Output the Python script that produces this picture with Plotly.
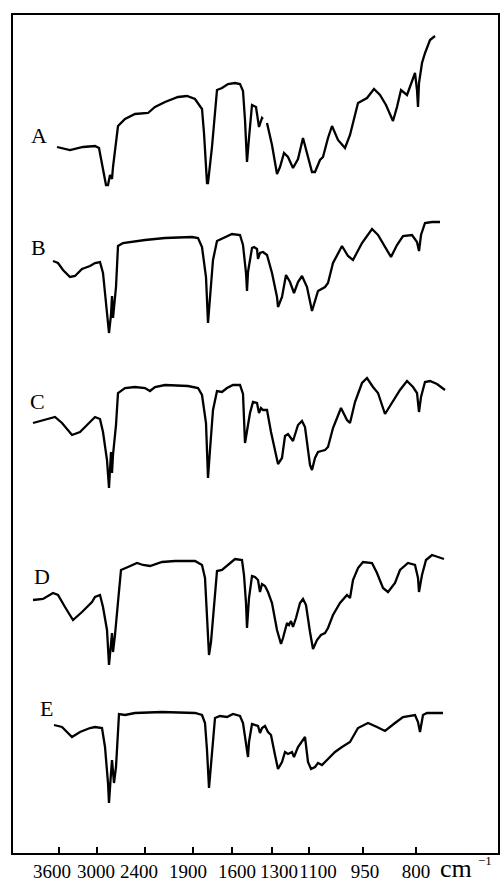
import plotly.graph_objects as go

# Chart abscissa (position along the chart paper, non-linear wavenumber scale)
tick_positions = [59, 97, 145, 193, 232, 272, 309, 363, 416]
label_positions = [52, 96, 139, 188, 237, 279, 318, 365, 416]
tick_labels = ["3600", "3000", "2400", "1900", "1600", "1300", "1100", "950", "800"]

# Spectra (ordinate: depth on the chart, larger = lower transmittance)
a_x = [57, 70, 83, 95, 99, 102, 106, 108, 110, 112, 113, 118, 125, 135, 148, 155, 165, 178, 187, 195,
       202, 204, 207, 208, 212, 217, 222, 228, 235, 240, 243, 245, 247, 249, 252, 256, 258, 259, 262, 263,
       None, 267, 272, 277, 280, 284, 288, 293, 298, 303, 307, 312, 315, 320, 323, 328, 332, 338, 345, 350,
       358, 367, 374, 380, 386, 393, 397, 401, 407, 415, 417, 418, 419, 422, 425, 430, 435]
a_y = [147, 150, 147, 146, 148, 163, 185, 185, 175, 179, 167, 126, 119, 114, 113, 107, 102, 97, 96, 99,
       109, 133, 183, 183, 147, 90, 88, 84, 83, 84, 91, 120, 162, 138, 105, 107, 118, 127, 118, 119,
       None, 123, 145, 174, 167, 153, 157, 168, 159, 138, 153, 172, 172, 160, 157, 138, 126, 140, 148, 135,
       103, 98, 89, 95, 105, 121, 107, 90, 95, 73, 90, 107, 83, 63, 53, 40, 36]

b_x = [53, 58, 63, 70, 75, 82, 90, 95, 100, 103, 107, 109, 111, 112, 113, 116, 118, 123, 145, 165,
       192, 198, 202, 206, 208, 210, 213, 217, 223, 232, 240, 243, 246, 247, 248, 252, 254, 257, 258, 260,
       263, 267, 272, 277, 278, 282, 286, 290, 294, 298, 302, 307, 312, 318, 325, 328, 333, 342, 348, 353,
       362, 372, 378, 385, 391, 397, 403, 412, 417, 419, 421, 425, 432, 440]
b_y = [261, 263, 270, 277, 276, 269, 266, 263, 262, 273, 313, 333, 315, 296, 318, 287, 246, 243, 240, 238,
       237, 238, 247, 277, 323, 300, 260, 241, 238, 234, 235, 245, 273, 291, 272, 248, 247, 249, 259, 253,
       252, 255, 273, 297, 307, 297, 275, 282, 293, 282, 276, 287, 311, 291, 287, 283, 263, 246, 256, 260,
       243, 229, 235, 247, 257, 245, 236, 235, 242, 251, 235, 223, 222, 222]

c_x = [33, 43, 55, 62, 72, 80, 90, 95, 100, 103, 107, 109, 111, 112, 113, 116, 118, 125, 135, 145,
       150, 155, 165, 188, 198, 202, 206, 208, 210, 213, 217, 222, 227, 233, 240, 243, 245, 247, 250, 253,
       257, 259, 261, 263, 267, 271, 275, 278, 282, 285, 288, 293, 298, 302, 305, 310, 312, 315, 318, 325,
       328, 333, 341, 347, 350, 355, 362, 367, 373, 378, 385, 392, 400, 407, 413, 417, 419, 421, 425, 430,
       437, 445]
c_y = [423, 420, 417, 423, 435, 432, 422, 417, 419, 432, 460, 488, 452, 473, 455, 425, 393, 388, 387, 388,
       391, 387, 385, 386, 388, 395, 423, 478, 450, 410, 391, 392, 388, 385, 385, 394, 443, 432, 413, 402,
       403, 413, 408, 410, 410, 432, 452, 464, 458, 436, 434, 441, 425, 421, 427, 465, 470, 458, 452, 450,
       447, 428, 408, 420, 423, 402, 383, 378, 387, 393, 414, 403, 390, 381, 387, 393, 412, 397, 382, 381,
       384, 390]

d_x = [33, 43, 53, 58, 65, 73, 82, 92, 95, 100, 103, 107, 109, 112, 113, 115, 118, 121, 128, 137,
       143, 150, 162, 175, 195, 202, 205, 207, 209, 211, 214, 217, 222, 228, 235, 242, 244, 246, 247, 249,
       252, 255, 258, 260, 262, 265, 268, 272, 277, 281, 283, 287, 289, 291, 293, 296, 300, 303, 306, 310,
       313, 317, 321, 325, 328, 333, 340, 347, 350, 353, 358, 363, 372, 377, 383, 388, 395, 400, 408, 415,
       418, 419, 422, 426, 432, 438, 444]
d_y = [600, 599, 593, 595, 607, 620, 612, 602, 597, 595, 607, 630, 665, 633, 652, 635, 602, 570, 567, 563,
       565, 566, 562, 561, 561, 565, 578, 625, 655, 642, 603, 571, 570, 565, 559, 560, 575, 603, 628, 598,
       576, 577, 580, 592, 584, 586, 592, 603, 630, 644, 638, 623, 625, 621, 627, 618, 603, 599, 605, 632,
       649, 640, 635, 633, 628, 615, 603, 595, 598, 580, 568, 562, 563, 573, 588, 592, 583, 570, 563, 565,
       578, 592, 575, 560, 555, 557, 559]

e_x = [54, 62, 72, 80, 90, 95, 102, 105, 108, 109, 111, 112, 114, 116, 119, 125, 135, 162, 195, 202,
       205, 207, 209, 211, 215, 220, 227, 233, 240, 243, 247, 248, 249, 252, 258, 260, 262, 265, 268, 271,
       275, 278, 282, 285, 288, 292, 294, 298, 305, 308, 311, 315, 318, 322, 328, 335, 342, 350, 358, 368,
       377, 385, 395, 403, 415, 418, 420, 423, 427, 443]
e_y = [725, 727, 737, 732, 728, 727, 728, 747, 783, 803, 773, 760, 783, 767, 714, 715, 713, 712, 713, 715,
       723, 750, 788, 767, 718, 716, 717, 714, 716, 723, 747, 757, 742, 724, 726, 733, 728, 726, 732, 735,
       755, 769, 762, 752, 754, 752, 757, 747, 737, 762, 769, 767, 763, 765, 759, 752, 747, 742, 728, 723,
       727, 731, 723, 717, 715, 722, 732, 715, 713, 713]

spectrum_names = ["A", "B", "C", "D", "E"]
name_x = [39, 38, 37, 42, 46]
name_y = [135, 247, 401, 576, 708]

X_MIN, X_MAX = 13, 498
Y_TOP, Y_BOTTOM = 15, 853

fig = go.Figure()
series_x = [a_x, b_x, c_x, d_x, e_x]
series_y = [a_y, b_y, c_y, d_y, e_y]
for i, (nm, xs, ys) in enumerate(zip(spectrum_names, series_x, series_y)):
    # spectrum A is drawn against the tick-mark axis (same range), so that axis is rendered
    fig.add_trace(go.Scatter(x=xs, y=ys, mode="lines", name=nm, connectgaps=False,
                             xaxis="x2" if i == 0 else "x", yaxis="y",
                             line=dict(color="black", width=2.3), hoverinfo="skip"))

serif = "Liberation Serif, Times New Roman, serif"
for nm, nx, ny in zip(spectrum_names, name_x, name_y):
    fig.add_annotation(x=nx, y=ny, xref="x", yref="y", text=nm, showarrow=False,
                       font=dict(family=serif, size=22, color="black"),
                       xanchor="center", yanchor="middle")

plot_h = Y_BOTTOM - Y_TOP
fig.add_annotation(x=456, y=-(868 - Y_BOTTOM) / plot_h, xref="x", yref="paper", text="cm",
                   showarrow=False, font=dict(family=serif, size=26, color="black"),
                   xanchor="center", yanchor="middle")
fig.add_annotation(x=485, y=-(860 - Y_BOTTOM) / plot_h, xref="x", yref="paper", text="−1",
                   showarrow=False, font=dict(family=serif, size=13, color="black"),
                   xanchor="center", yanchor="middle")

fig.update_layout(
    width=501, height=882,
    margin=dict(l=13, r=3, t=15, b=29, autoexpand=False),
    paper_bgcolor="white", plot_bgcolor="white",
    showlegend=False,
    xaxis=dict(range=[X_MIN, X_MAX], showgrid=False, zeroline=False, automargin=False,
               showline=True, linecolor="black", linewidth=2, mirror=True,
               tickmode="array", tickvals=label_positions, ticktext=tick_labels,
               ticks="", tickangle=0,
               tickfont=dict(family=serif, size=19, color="black")),
    xaxis2=dict(range=[X_MIN, X_MAX], overlaying="x", anchor="y", side="bottom",
                showgrid=False, zeroline=False, showline=False, automargin=False,
                tickmode="array", tickvals=tick_positions, ticks="inside", ticklen=6,
                tickwidth=1.5, tickcolor="black", showticklabels=False),
    yaxis=dict(range=[Y_BOTTOM, Y_TOP], showgrid=False, zeroline=False, automargin=False,
               showline=True, linecolor="black", linewidth=2, mirror=True,
               showticklabels=False, ticks=""),
)

fig.write_html("out.html", config={"displayModeBar": False},
               post_script="document.body.style.margin='0px';document.body.style.padding='0px';")
